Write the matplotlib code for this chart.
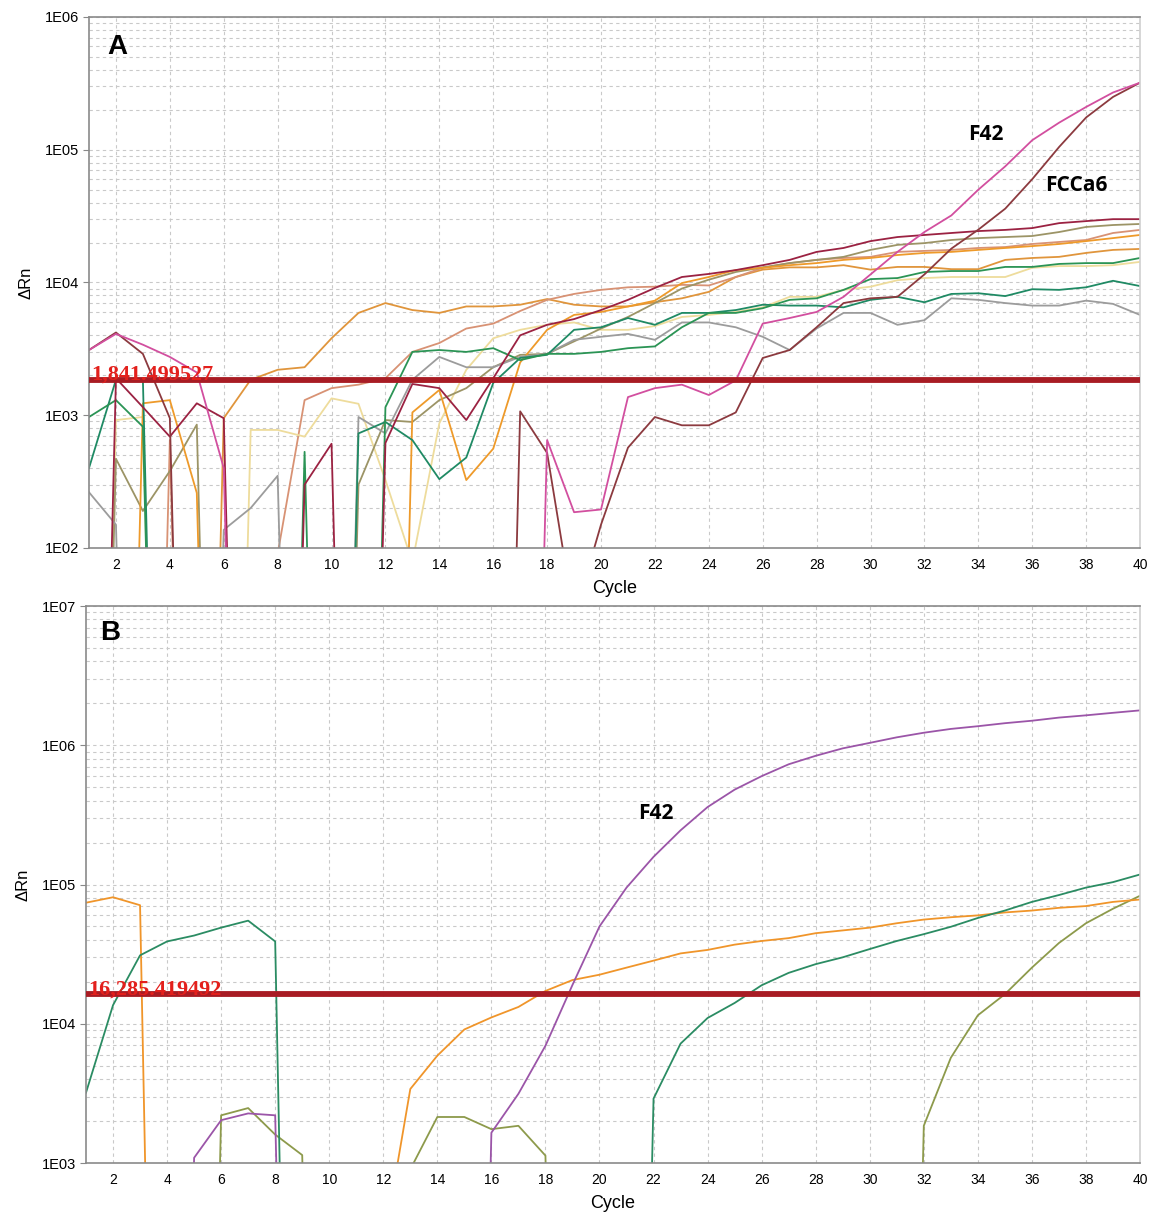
import numpy as np
import matplotlib
matplotlib.use("Agg")
import matplotlib.pyplot as plt
from matplotlib.ticker import FuncFormatter, LogLocator

plt.rcParams['font.family'] = ['Liberation Sans', 'DejaVu Sans']

# values below the axis floor (negative on the instrument) are plotted as OFF
OFF = 1e-5
cycles = np.arange(1, 41)

# ---- panel A: amplification curves (delta Rn per cycle) ----
a_f42 = [3100, 4100, 3400, 2750, 2100, 400, OFF, OFF, OFF, OFF, OFF, OFF, OFF, OFF, OFF, OFF, OFF,
         650, 186, 195, 1370, 1600, 1700, 1420, 1830, 4900, 5400, 6000, 7800, 11500, 17000, 24000,
         32000, 50000, 75000, 118000, 160000, 210000, 270000, 320000]
a_fcca6 = [3100, 4200, 2900, 950, OFF, OFF, OFF, OFF, OFF, OFF, OFF, OFF, OFF, OFF, OFF, OFF,
           1070, 520, 30, 150, 570, 970, 840, 840, 1050, 2700, 3100, 4600, 7000, 7600, 7800, 11500,
           18000, 25000, 36000, 60000, 105000, 175000, 250000, 320000]
a_maroon = [OFF, 1900, 1150, 690, 1230, 950, OFF, OFF, 300, 610, OFF, 618, 1720, 1600, 920, 1900,
            4000, 4800, 5300, 6200, 7400, 9100, 11000, 11600, 12400, 13500, 14800, 17000, 18200,
            20500, 22000, 22800, 23600, 24400, 24900, 25700, 28000, 29000, 30000, 30000]
a_green = [970, 1300, 820, OFF, OFF, OFF, OFF, OFF, 530, OFF, OFF, 1150, 3000, 3100, 3000, 3200,
           2600, 2900, 2900, 3000, 3200, 3300, 4600, 5900, 5900, 6400, 7400, 7600, 8800, 10600,
           10800, 12000, 12200, 12200, 13100, 13100, 13800, 14000, 14000, 15300]
a_teal = [400, 1850, 1850, OFF, OFF, OFF, OFF, OFF, OFF, OFF, 730, 890, 650, 330, 480, 1750, 2700,
          2850, 4400, 4600, 5400, 4800, 5900, 5900, 6200, 6800, 6700, 6700, 6500, 7400, 7800, 7100,
          8200, 8300, 7900, 8900, 8800, 9200, 10300, 9400]
a_gray = [263, 150, OFF, OFF, OFF, 137, 200, 350, OFF, OFF, 970, 730, 1850, 2750, 2300, 2300, 2750,
          2900, 3700, 3900, 4100, 3700, 5000, 5000, 4600, 3900, 3100, 4500, 5900, 5900, 4800, 5200,
          7600, 7400, 7000, 6700, 6700, 7300, 6900, 5700]
a_yellow = [OFF, 920, 970, OFF, OFF, OFF, 775, 775, 690, 1340, 1220, 325, 78, 870, 2200, 3800, 4400,
            4800, 5000, 4400, 4400, 4700, 5500, 5700, 6000, 6500, 7800, 7800, 8800, 9300, 10400,
            10800, 11000, 11000, 11000, 12900, 13300, 13300, 13500, 14300]
a_orange_early = [OFF, OFF, OFF, OFF, OFF, 950, 1850, 2200, 2300, 3800, 5900, 7000, 6200, 5900, 6600,
                  6600, 6800, 7500, 6800, 6600, 6600, 7100, 7600, 8500, 11000, 12500, 13000, 13000,
                  13500, 12500, 13100, 13100, 12600, 12600, 14800, 15300, 15600, 16700, 17600, 17900]
a_salmon = [OFF, OFF, OFF, 650, OFF, OFF, OFF, 90, 1300, 1600, 1700, 1900, 3000, 3500, 4500, 4900,
            6100, 7400, 8200, 8800, 9200, 9300, 9600, 9500, 11000, 12900, 14000, 14800, 15300, 15600,
            17000, 17300, 17600, 18200, 18500, 19500, 20200, 20900, 23600, 24900]
a_olive = [OFF, 470, 190, 380, 850, OFF, OFF, OFF, OFF, OFF, 300, 920, 890, 1300, 1600, 2300, 2850,
           2900, 3600, 4500, 5500, 7000, 9000, 10500, 12000, 13000, 14000, 14800, 15600, 17600,
           19200, 19800, 20900, 21600, 22000, 22400, 24000, 26200, 27100, 27600]
a_orange = [OFF, OFF, 1230, 1300, 260, OFF, OFF, OFF, OFF, OFF, OFF, OFF, 1050, 1550, 325, 560, 2500,
            4400, 5700, 6000, 6600, 7300, 9900, 11000, 12400, 12900, 13500, 14000, 14800, 15300,
            16100, 16700, 17000, 17600, 18200, 18800, 19500, 20500, 21600, 22800]
threshold_a = 1841.499527

# ---- panel B ----
b_f42 = [OFF, OFF, OFF, OFF, 1090, 2030, 2270, 2200, OFF, OFF, OFF, OFF, OFF, OFF, OFF, 1650, 3140,
         6950, 19000, 50000, 95000, 158000, 245000, 360000, 480000, 600000, 730000, 840000, 950000,
         1040000, 1140000, 1230000, 1310000, 1370000, 1440000, 1500000, 1580000, 1640000, 1710000,
         1780000]
b_orange = [74000, 81000, 71000, OFF, OFF, OFF, OFF, OFF, OFF, OFF, OFF, 250, 3400, 5900, 9100, 11100,
            13200, 17200, 20600, 22500, 25300, 28400, 32000, 33900, 37000, 39300, 41200, 44700,
            46800, 49000, 52700, 56000, 58200, 60000, 63000, 65000, 68000, 70000, 75000, 78000]
b_green = [3200, 13600, 31000, 39000, 43000, 49000, 55000, 39000, OFF, OFF, OFF, OFF, OFF, OFF, OFF,
           OFF, OFF, OFF, OFF, OFF, OFF, 2900, 7200, 11000, 14100, 18900, 23200, 26800, 30000,
           34400, 39300, 44000, 49700, 57500, 65000, 75000, 84000, 95000, 104000, 118000]
b_olive = [OFF, OFF, OFF, OFF, OFF, 2200, 2480, 1600, 1140, OFF, OFF, OFF, 900, 2140, 2140, 1750,
           1850, 1130, OFF, OFF, OFF, OFF, OFF, OFF, OFF, OFF, OFF, OFF, OFF, OFF, OFF, 1850, 5700,
           11500, 16300, 25300, 38000, 52700, 67000, 83000]
threshold_b = 16285.419492

series_a = [
    (a_orange_early, '#e0953c'), (a_salmon, '#d89274'), (a_yellow, '#eedc9c'),
    (a_olive, '#9c9466'), (a_orange, '#ee9a2a'), (a_gray, '#9c9c9c'),
    (a_teal, '#1f8a64'), (a_green, '#2b9455'), (a_maroon, '#9b2242'),
    (a_fcca6, '#8c3a3f'), (a_f42, '#d24f9f'),
]
series_b = [(b_olive, '#8d9a4b'), (b_orange, '#f0952a'), (b_green, '#2b8c63'), (b_f42, '#9b55a8')]


def style_axes(ax, ymin, ymax):
    ax.set_yscale('log')
    ax.set_xlim(1, 40)
    ax.set_ylim(ymin, ymax)
    ax.set_xticks(np.arange(2, 41, 2))
    ax.yaxis.set_major_locator(LogLocator(base=10, numticks=10))
    ax.yaxis.set_minor_locator(LogLocator(base=10, subs=np.arange(2, 10), numticks=20))
    ax.yaxis.set_major_formatter(FuncFormatter(lambda v, p: "1E%02d" % int(round(np.log10(v)))))
    ax.yaxis.set_minor_formatter(FuncFormatter(lambda v, p: ""))
    ax.grid(True, which='both', axis='y', color='#c9c9c9', linestyle=(0, (3, 3)), lw=0.8)
    ax.grid(True, which='major', axis='x', color='#c9c9c9', linestyle=(0, (3, 3)), lw=0.8)
    ax.tick_params(axis='y', which='major', labelsize=10.5, length=4, color='#888888', pad=3)
    ax.tick_params(axis='y', which='minor', length=0)
    ax.tick_params(axis='x', labelsize=10, length=0, pad=7)
    for s in ax.spines.values():
        s.set_color('#8a8a8a')
        s.set_linewidth(1.2)
    ax.spines['right'].set_color('#cfcfcf')
    ax.set_xlabel('Cycle', fontsize=13, labelpad=6)
    ax.set_ylabel('ΔRn', fontsize=12, labelpad=8)


fig = plt.figure(figsize=(11.51, 12.13), dpi=100)
axA = fig.add_axes([0.07732, 0.54823, 0.91312, 0.43776])
axB = fig.add_axes([0.07472, 0.04122, 0.91573, 0.45919])

style_axes(axA, 1e2, 1e6)
for vals, col in series_a:
    axA.plot(cycles, vals, color=col, lw=1.3)
axA.axhline(threshold_a, color='#a81c24', lw=4.2, zorder=5)
axA.text(1.07, threshold_a, '{:,.6f}'.format(threshold_a), color='#e3201c', fontsize=16,
         fontweight='bold', family=['Liberation Serif', 'DejaVu Serif'], va='baseline', ha='left',
         zorder=6)
axA.text(0.017, 0.968, 'A', transform=axA.transAxes, fontsize=20, fontweight='bold', va='top')
axA.text(34.28, 1.31e5, 'F42', fontsize=15, fontweight='bold', family=['Open Sans'],
         ha='center', va='center')
axA.text(37.63, 5.42e4, 'FCCa6', fontsize=15, fontweight='bold', family=['Open Sans'],
         ha='center', va='center')

style_axes(axB, 1e3, 1e7)
for vals, col in series_b:
    axB.plot(cycles, vals, color=col, lw=1.3)
axB.axhline(threshold_b, color='#a81c24', lw=4.2, zorder=5)
axB.text(1.07, threshold_b, '{:,.6f}'.format(threshold_b), color='#e3201c', fontsize=16,
         fontweight='bold', family=['Liberation Serif', 'DejaVu Serif'], va='baseline', ha='left',
         zorder=6)
axB.text(0.013, 0.975, 'B', transform=axB.transAxes, fontsize=20, fontweight='bold', va='top')
axB.text(22.09, 3.21e5, 'F42', fontsize=15, fontweight='bold', family=['Open Sans'],
         ha='center', va='center')

fig.savefig('out.png', dpi=100)
